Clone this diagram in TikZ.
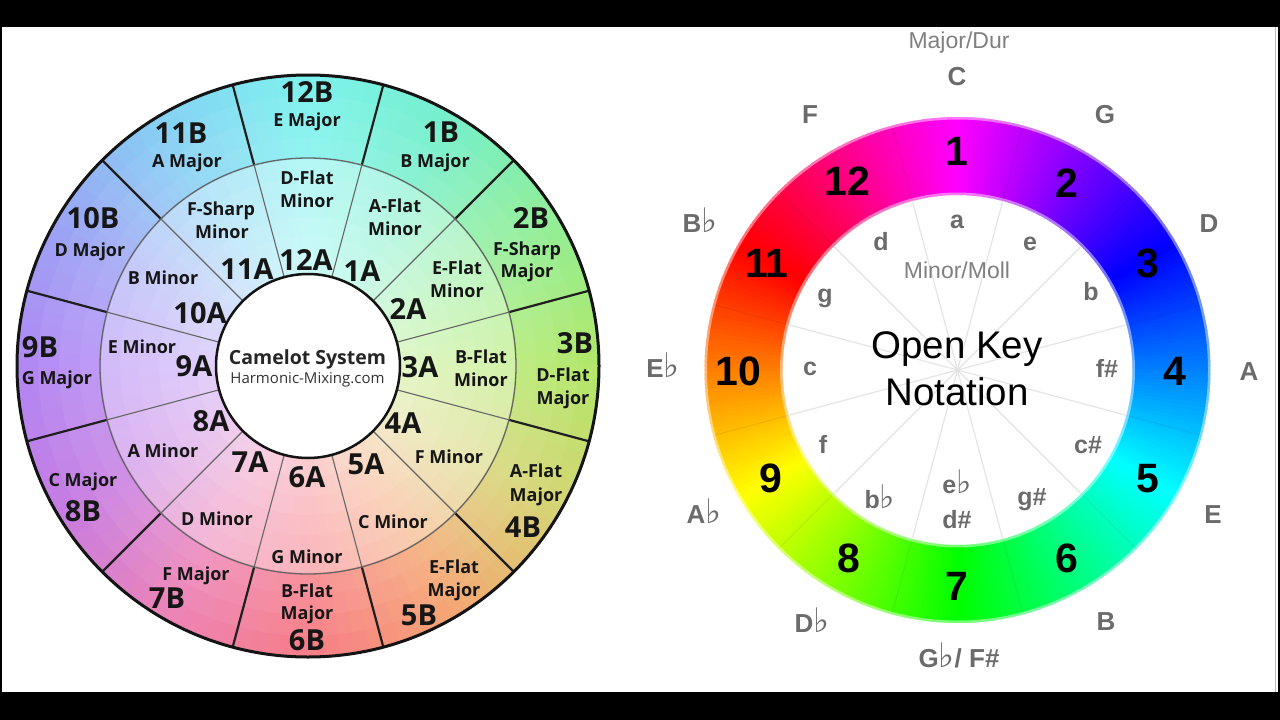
\documentclass[tikz,border=0pt]{standalone}
\usepackage{fontspec}
\usepackage{graphicx}
\setmainfont{Liberation Sans}
\newfontfamily\osans{Open Sans}
\newfontfamily\djflat{DejaVu Sans}
\newcommand{\fl}{\scalebox{1.3}{\djflat\mdseries ♭}}
\definecolor{cB0}{HTML}{7EF2EE}
\definecolor{cB1}{HTML}{76EFCB}
\definecolor{cB2}{HTML}{92EE96}
\definecolor{cB3}{HTML}{B2E86A}
\definecolor{cB4}{HTML}{D6D474}
\definecolor{cB5}{HTML}{F5A674}
\definecolor{cB6}{HTML}{F77E88}
\definecolor{cB7}{HTML}{EC84B8}
\definecolor{cB8}{HTML}{C67CE2}
\definecolor{cB9}{HTML}{B288F4}
\definecolor{cB10}{HTML}{9CA4F4}
\definecolor{cB11}{HTML}{86D2F4}
\definecolor{okgray}{HTML}{6B6B6B}
\definecolor{taggray}{HTML}{808080}
\definecolor{ink}{HTML}{161616}
\tikzset{
  camB/.style={font=\osans\bfseries\fontsize{29}{29}\selectfont, anchor=base, inner sep=0pt, text=ink},
  camS/.style={font=\osans\bfseries\fontsize{18}{18}\selectfont, anchor=base, inner sep=0pt, text=ink},
  okNum/.style={font=\bfseries\fontsize{41}{41}\selectfont, anchor=base, inner sep=0pt, text=black},
  okOut/.style={font=\bfseries\fontsize{26}{26}\selectfont, anchor=base, inner sep=0pt, text=okgray},
  okIn/.style={font=\bfseries\fontsize{25}{25}\selectfont, anchor=base, inner sep=0pt, text=okgray},
  okTag/.style={font=\fontsize{23}{23}\selectfont, anchor=base, inner sep=0pt, text=taggray},
  okTitle/.style={font=\fontsize{38.5}{38.5}\selectfont, anchor=base, inner sep=0pt, text=black}
}
\begin{document}
\begin{tikzpicture}[x=1pt,y=1pt]
\useasboundingbox (0,0) rectangle (1280,-720);
\fill[white] (0,0) rectangle (1280,-720);

% ---------------- Camelot wheel ----------------
\begin{scope}[shift={(308,-366)}]
  \foreach \k in {0,...,119}{
    \pgfmathsetmacro{\ph}{88.5-3*\k}
    \pgfmathsetmacro{\angA}{\ph+1.8}
    \pgfmathsetmacro{\angB}{\ph-1.8}
    \pgfmathtruncatemacro{\ii}{floor(\k/10)}
    \pgfmathtruncatemacro{\jj}{mod(\ii+1,12)}
    \pgfmathtruncatemacro{\pp}{round(100*((\k+0.5)/10-\ii))}
    \colorlet{cur}{cB\jj!\pp!cB\ii}
    \foreach \ra/\rb/\q in {92/112/40, 111/131/44, 130/150/47, 149/170/51, 169/189/54, 188/209/58,
                            207/229/86, 228/250/90, 249/271/95, 270/292/100}{
      \fill[cur!\q!white] (\angA:\ra) arc[start angle=\angA, end angle=\angB, radius=\ra]
        -- (\angB:\rb) arc[start angle=\angB, end angle=\angA, radius=\rb] -- cycle;
    }
  }
  \foreach \t in {15,45,...,345}{
    \draw[black!60, line width=1.1] (\t:92) -- (\t:208);
    \draw[black!88, line width=2.2] (\t:208) -- (\t:291);
  }
  \draw[black!60, line width=1.3] (0,0) circle[radius=208];
  \draw[black!92, line width=3] (0,0) circle[radius=291];
  \filldraw[fill=white, draw=black!92, line width=2.5] (0,0) circle[radius=92];
\end{scope}

\node[font=\osans\bfseries\fontsize{19.5}{19.5}\selectfont, anchor=base, inner sep=0pt, text=black!85] (cam) at (307.5,-364) {Camelot System};
\node[font=\osans\fontsize{15}{15}\selectfont, anchor=base, inner sep=0pt, text=black!80] (hm) at (307.5,-383) {Harmonic-Mixing.com};

% outer ring labels
\node[camB] at (307,-102) {12B};
\node[camS] at (307,-126) {E Major};
\node[camB] at (181,-143) {11B};
\node[camS] at (187,-167) {A Major};
\node[camB] at (93,-228) {10B};
\node[camS] at (90,-256) {D Major};
\node[camB] at (40,-357) {9B};
\node[camS] at (57,-384) {G Major};
\node[camS] at (83,-486) {C Major};
\node[camB] at (83,-521) {8B};
\node[camS] at (196,-580) {F Major};
\node[camB] at (167,-608) {7B};
\node[camS] at (307,-597) {B-Flat};
\node[camS] at (307,-619) {Major};
\node[camB] at (307,-650) {6B};
\node[camS] at (454,-573) {E-Flat};
\node[camS] at (454,-596) {Major};
\node[camB] at (419,-625) {5B};
\node[camS] at (536,-477) {A-Flat};
\node[camS] at (536,-501) {Major};
\node[camB] at (523,-537) {4B};
\node[camB] at (575,-353) {3B};
\node[camS] at (563,-381) {D-Flat};
\node[camS] at (563,-404) {Major};
\node[camB] at (531,-228) {2B};
\node[camS] at (527,-255) {F-Sharp};
\node[camS] at (527,-277) {Major};
\node[camB] at (441,-142) {1B};
\node[camS] at (435,-167) {B Major};
% inner ring labels
\node[camS] at (307,-184) {D-Flat};
\node[camS] at (307,-207) {Minor};
\node[camB] at (306,-270) {12A};
\node[camS] at (221,-215) {F-Sharp};
\node[camS] at (222,-238) {Minor};
\node[camB] at (247,-279) {11A};
\node[camS] at (395,-212) {A-Flat};
\node[camS] at (395,-235) {Minor};
\node[camB] at (362,-281) {1A};
\node[camS] at (457,-274) {E-Flat};
\node[camS] at (457,-297) {Minor};
\node[camB] at (408,-319) {2A};
\node[camS] at (481,-363) {B-Flat};
\node[camS] at (481,-386) {Minor};
\node[camB] at (420,-377) {3A};
\node[camB] at (403,-433) {4A};
\node[camS] at (449,-463) {F Minor};
\node[camB] at (366,-474) {5A};
\node[camS] at (393,-528) {C Minor};
\node[camB] at (307,-487) {6A};
\node[camS] at (307,-563) {G Minor};
\node[camB] at (250,-472) {7A};
\node[camS] at (217,-525) {D Minor};
\node[camB] at (211,-431) {8A};
\node[camS] at (163,-457) {A Minor};
\node[camB] at (194,-376) {9A};
\node[camS] at (142,-353) {E Minor};
\node[camB] at (200,-323) {10A};
\node[camS] at (163,-284) {B Minor};

% ---------------- Open Key wheel ----------------
\begin{scope}[shift={(957.5,-370)}]
  \foreach \k in {0,...,359}{
    \pgfmathsetmacro{\ph}{89.5-\k}
    \pgfmathsetmacro{\angA}{\ph+0.8}
    \pgfmathsetmacro{\angB}{\ph-0.8}
    \pgfmathsetmacro{\hh}{mod(\ph+210+720,360)/360}
    \definecolor{hc}{hsb}{\hh,1,1}
    \fill[hc] (\angA:175) arc[start angle=\angA, end angle=\angB, radius=175]
      -- (\angB:253) arc[start angle=\angB, end angle=\angA, radius=253] -- cycle;
  }
  \foreach \t in {15,45,...,345}{
    \draw[black, opacity=0.07, line width=1] (\t:175) -- (\t:253);
    \draw[black!10, line width=1.2] (0,0) -- (\t:174);
  }
  \draw[white, opacity=0.45, line width=3] (0,0) circle[radius=176];
  \draw[white, opacity=0.45, line width=3] (0,0) circle[radius=252];
\end{scope}

\node[okTag] at (959,-48) {Major/Dur};
\node[okTag] at (957,-278) {Minor/Moll};
\node[okTitle] at (957,-358) {Open Key};
\node[okTitle] at (957,-405) {Notation};

\node[okOut] at (957,-85) {C};
\node[okOut] at (1105,-123) {G};
\node[okOut] at (1209,-232) {D};
\node[okOut] at (1249,-380) {A};
\node[okOut] at (1213,-523) {E};
\node[okOut] at (1106,-630) {B};
\node[okOut] at (959,-667) {G\fl/ F\#};
\node[okOut] at (812,-632) {D\fl};
\node[okOut] at (704,-523) {A\fl};
\node[okOut] at (663,-377) {E\fl};
\node[okOut] at (700,-232) {B\fl};
\node[okOut] at (810,-123) {F};

\node[okNum] at (957,-165) {1};
\node[okNum] at (1067,-197) {2};
\node[okNum] at (1148,-277) {3};
\node[okNum] at (1175,-385) {4};
\node[okNum] at (1148,-492) {5};
\node[okNum] at (1067,-572) {6};
\node[okNum] at (957,-600) {7};
\node[okNum] at (849,-572) {8};
\node[okNum] at (771,-492) {9};
\node[okNum] at (738,-385) {10};
\node[okNum] at (767,-277) {11};
\node[okNum] at (847,-195) {12};

\node[okIn] at (957,-228) {a};
\node[okIn] at (1030,-250) {e};
\node[okIn] at (1091,-300) {b};
\node[okIn] at (1107,-377) {f\#};
\node[okIn] at (1088,-453) {c\#};
\node[okIn] at (1032,-505) {g\#};
\node[okIn] at (957,-493) {e\fl};
\node[okIn] at (957,-528) {d\#};
\node[okIn] at (880,-508) {b\fl};
\node[okIn] at (823,-453) {f};
\node[okIn] at (810,-375) {c};
\node[okIn] at (825,-302) {g};
\node[okIn] at (881,-250) {d};

% frame
\fill[black] (0,0) rectangle (1280,-27);
\fill[black] (0,-692) rectangle (1280,-720);
\fill[black] (0,0) rectangle (1.5,-720);
\fill[black] (1278,0) rectangle (1280,-720);
\draw[black!25, line width=0.8] (1275.5,-27) -- (1275.5,-692);
\end{tikzpicture}
\end{document}
